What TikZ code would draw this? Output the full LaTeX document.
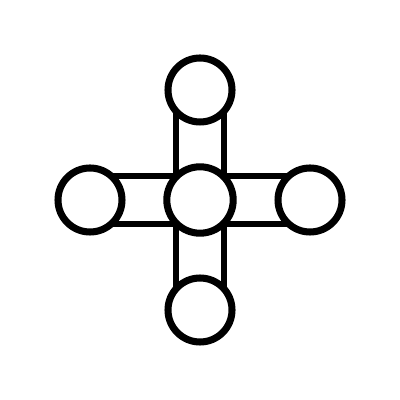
\documentclass[tikz,border=0pt]{standalone}
\usetikzlibrary{backgrounds}

\begin{document}
\begin{tikzpicture}[
    ball/.style={circle, draw, line width=5pt, fill=white, minimum size=1.6cm, inner sep=0pt},
    bar/.style={line width=4.8pt}
  ]
    \useasboundingbox (0,0) rectangle (10,10);

    % Circles
    \node[ball, minimum size=1.66cm] (hub) at (5,5) {};
    \node[ball] (up) at (5,7.75) {};
    \node[ball] (down) at (5,2.25) {};
    \node[ball] (west) at (2.25,5) {};
    \node[ball] (east) at (7.75,5) {};

    % Bars behind the circles
    \begin{scope}[on background layer]
      \draw[bar] ([xshift=-0.6cm]up.center) -- ([xshift=-0.6cm]down.center);
      \draw[bar] ([xshift=0.6cm]up.center) -- ([xshift=0.6cm]down.center);
      \draw[bar] ([yshift=0.6cm]west.center) -- ([yshift=0.6cm]east.center);
      \draw[bar] ([yshift=-0.6cm]west.center) -- ([yshift=-0.6cm]east.center);
    \end{scope}
  \end{tikzpicture}
\end{document}
